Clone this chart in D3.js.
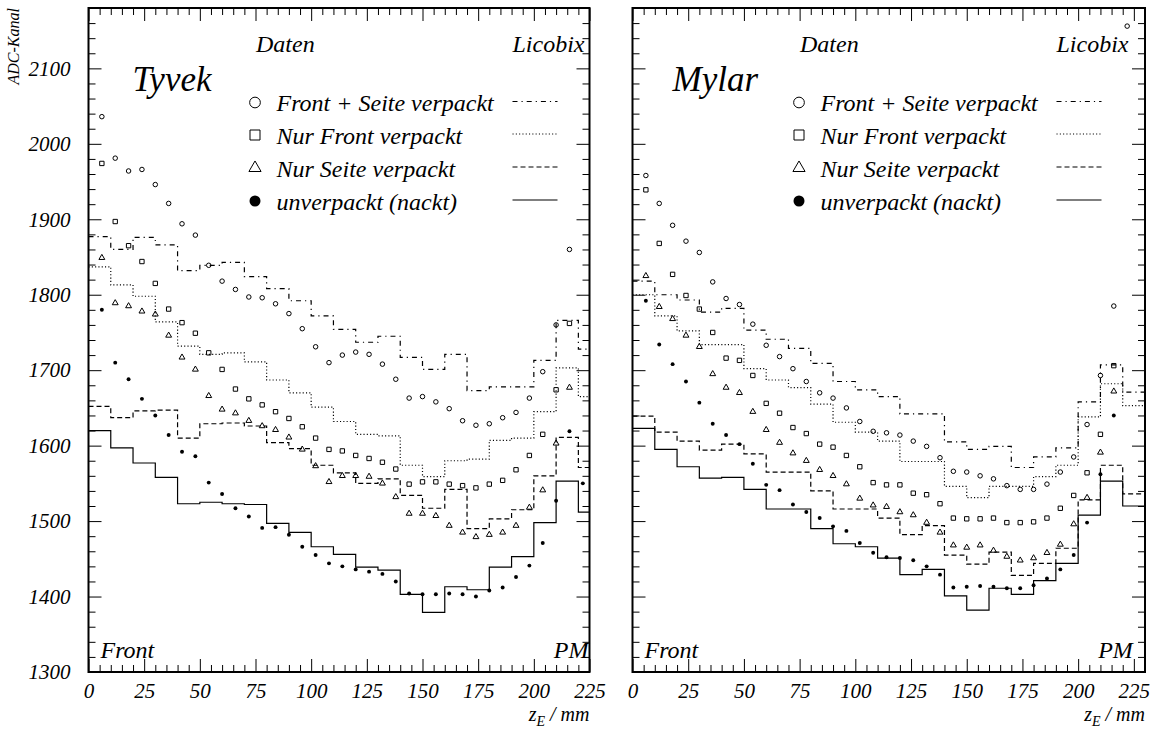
<!DOCTYPE html>
<html><head><meta charset="utf-8">
<script src="https://cdn.jsdelivr.net/npm/d3@7"></script>
<style>
body{margin:0;background:#fff}
svg text{font-family:"Liberation Serif","Times New Roman",serif;font-style:italic;fill:#000}
</style></head><body>
<svg id="chart" width="1152" height="735"></svg>
<script>
// ---- data ---------------------------------------------------------------
// Licobix simulation: histogram bins of 10 mm along z_E
const binEdges = [0,10,20,30,40,50,60,70,80,90,100,110,120,130,140,150,160,170,180,190,200,210,220,230];

const tyvekSimFrontSeite = [1877,1860,1876,1866,1832,1839,1843,1824,1808,1792,1772,1754,1737,1745,1717,1701,1721,1673,1678,1678,1713,1766,1728];
const tyvekSimFront      = [1837,1813,1798,1764,1732,1721,1723,1711,1687,1670,1651,1632,1615,1613,1574,1559,1580,1582,1607,1610,1645,1703,1665];
const tyvekSimSeite      = [1652,1637,1646,1647,1610,1629,1630,1626,1604,1596,1574,1564,1550,1556,1534,1517,1542,1490,1503,1515,1560,1611,1571];
const tyvekSimNackt      = [1620,1597,1577,1558,1523,1525,1523,1522,1497,1485,1466,1456,1439,1435,1403,1379,1413,1409,1439,1453,1498,1553,1512];

const mylarSimFrontSeite = [1818,1800,1793,1777,1782,1753,1741,1729,1709,1685,1674,1665,1642,1642,1605,1595,1599,1571,1585,1597,1658,1707,1671];
const mylarSimFront      = [1800,1772,1752,1734,1734,1702,1687,1677,1655,1631,1618,1606,1579,1579,1546,1531,1546,1546,1559,1574,1638,1682,1653];
const mylarSimSeite      = [1639,1618,1606,1594,1602,1589,1565,1565,1540,1516,1516,1504,1482,1494,1455,1443,1459,1428,1444,1464,1528,1574,1536];
const mylarSimNackt      = [1623,1595,1572,1557,1558,1542,1516,1516,1490,1470,1466,1451,1429,1436,1401,1382,1411,1403,1421,1444,1508,1553,1520];

// measured data: scan positions along z_E (mm)
const zPos = [6,12,18,24,30,36,42,48,54,60,66,72,78,84,90,96,102,108,114,120,126,132,138,144,150,156,162,168,174,180,186,192,198,204,210,216,222];

const tyvekDatFrontSeite = [2036,1981,1964,1966,1946,1921,1894,1879,1839,1818,1807,1797,1796,1788,1775,1755,1731,1710,1720,1724,1721,1708,1688,1663,1665,1658,1649,1633,1627,1629,1637,1644,1663,1698,1760,1860,null];
const tyvekDatFront      = [1974,1897,1865,1844,1815,1781,1763,1749,1723,1701,1675,1662,1654,1645,1636,1625,1610,1595,1593,1587,1583,1578,1569,1549,1552,1552,1549,1547,1544,1549,1554,1568,1587,1615,1674,1762,null];
const tyvekDatSeite      = [1849,1789,1785,1778,1774,1746,1717,1701,1666,1648,1643,1633,1626,1621,1611,1595,1573,1552,1560,1560,1559,1550,1532,1510,1510,1507,1494,1485,1479,1482,1485,1494,1518,1541,1603,1677,null];
const tyvekDatNackt      = [1780,1710,1688,1662,1640,1614,1592,1586,1551,1536,1517,1506,1491,1492,1482,1466,1455,1444,1440,1436,1433,1430,1420,1404,1403,1403,1404,1403,1400,1408,1412,1426,1441,1471,1527,1619,1550];

const mylarDatFrontSeite = [1958,1921,1892,1871,1856,1817,1795,1787,1761,1733,1718,1702,1685,1670,1663,1650,1632,1619,1617,1614,1606,1599,1584,1566,1565,1560,1556,1547,1542,1542,1549,1565,1585,1628,1693,1785,2156];
const mylarDatFront      = [1939,1868,1827,1799,1781,1750,1716,1713,1693,1656,1643,1624,1616,1602,1598,1587,1572,1551,1548,1548,1537,1535,1523,1504,1503,1503,1504,1498,1498,1499,1504,1517,1534,1564,1615,1706,null];
const mylarDatSeite      = [1825,1784,1768,1746,1731,1695,1677,1670,1645,1621,1604,1590,1580,1568,1560,1549,1530,1521,1519,1512,1508,1498,1485,1468,1465,1468,1461,1453,1448,1451,1458,1469,1496,1531,1591,1672,null];
const mylarDatNackt      = [1792,1734,1708,1685,1657,1629,1614,1602,1576,1548,1541,1522,1512,1504,1493,1487,1471,1458,1452,1451,1448,1440,1429,1412,1413,1414,1413,1411,1411,1415,1424,1436,1455,1498,1562,1640,null];

// axis ticks
const xTickLabels = [0,25,50,75,100,125,150,175,200,225];
const yTickLabels = [1300,1400,1500,1600,1700,1800,1900,2000,2100];
const yDomain = [1300,2180];

// legend entries
const legendLabels = ["Front + Seite verpackt","Nur Front verpackt","Nur Seite verpackt","unverpackt (nackt)"];

// ---- drawing ------------------------------------------------------------
const svg = d3.select("#chart");
const TOP = 8, BOTTOM = 672;
const FONT = '"Liberation Serif","Times New Roman",serif';

const styles = [
  {dash:"5,4,1.2,4", marker:"circle"},
  {dash:"1.1,2.2",   marker:"square"},
  {dash:"5,3",       marker:"triangle"},
  {dash:null,        marker:"dot"}
];

const panels = [
  {title:"Tyvek", left:88.5, right:589.5, zMax:225, titleX:44, yLabels:true,
   sim:[tyvekSimFrontSeite,tyvekSimFront,tyvekSimSeite,tyvekSimNackt],
   dat:[tyvekDatFrontSeite,tyvekDatFront,tyvekDatSeite,tyvekDatNackt]},
  {title:"Mylar", left:632.5, right:1145, zMax:230, titleX:40, yLabels:false,
   sim:[mylarSimFrontSeite,mylarSimFront,mylarSimSeite,mylarSimNackt],
   dat:[mylarDatFrontSeite,mylarDatFront,mylarDatSeite,mylarDatNackt]}
];

function symbolPath(kind, big) {
  const sz = {
    circle:   big ? 90 : 16,
    square:   big ? 100 : 19,
    triangle: big ? 64 : 15,
    dot:      big ? 95 : 12
  }[kind];
  const type = kind === "square" ? d3.symbolSquare
             : kind === "triangle" ? d3.symbolTriangle : d3.symbolCircle;
  return d3.symbol().type(type).size(sz)();
}
function styleMarker(sel, kind, big) {
  sel.attr("d", symbolPath(kind, big))
     .attr("fill", kind === "dot" ? "#000" : "none")
     .attr("stroke", kind === "dot" ? "none" : "#000")
     .attr("stroke-width", 1);
}

panels.forEach((p, pi) => {
  const x = d3.scaleLinear().domain([0, p.zMax]).range([p.left, p.right]);
  const y = d3.scaleLinear().domain(yDomain).range([BOTTOM, TOP]);
  const g = svg.append("g");

  const clipId = "clip" + pi;
  svg.append("clipPath").attr("id", clipId).append("rect")
     .attr("x", p.left).attr("y", TOP).attr("width", p.right - p.left).attr("height", BOTTOM - TOP);

  // axes with inward ticks
  const majorX = xTickLabels.filter(v => v <= p.zMax);
  const minorX = d3.range(0, p.zMax + 0.1, 5).filter(v => v % 25 !== 0);
  const minorY = d3.range(yDomain[0], yDomain[1], 20).filter(v => v % 100 !== 0 && v > yDomain[0]);

  function axisStyle(a) {
    a.select(".domain").remove();
    a.selectAll("line").attr("stroke", "#000").attr("stroke-width", 1);
    a.attr("font-family", FONT).attr("font-size", 21).attr("font-style", "italic");
  }
  g.append("g").attr("transform", `translate(0,${BOTTOM})`)
    .call(d3.axisBottom(x).tickValues(majorX).tickSize(-13).tickPadding(11).tickFormat(d3.format("d"))).call(axisStyle);
  g.append("g").attr("transform", `translate(0,${BOTTOM})`)
    .call(d3.axisBottom(x).tickValues(minorX).tickSize(-7).tickFormat("")).call(axisStyle);
  g.append("g").attr("transform", `translate(0,${TOP})`)
    .call(d3.axisTop(x).tickValues(majorX).tickSize(-13).tickFormat("")).call(axisStyle);
  g.append("g").attr("transform", `translate(0,${TOP})`)
    .call(d3.axisTop(x).tickValues(minorX).tickSize(-7).tickFormat("")).call(axisStyle);

  g.append("g").attr("transform", `translate(${p.left},0)`)
    .call(d3.axisLeft(y).tickValues(yTickLabels).tickSize(-13).tickPadding(18)
      .tickFormat(p.yLabels ? d3.format("d") : "")).call(axisStyle);
  g.append("g").attr("transform", `translate(${p.left},0)`)
    .call(d3.axisLeft(y).tickValues(minorY).tickSize(-7).tickFormat("")).call(axisStyle);
  g.append("g").attr("transform", `translate(${p.right},0)`)
    .call(d3.axisRight(y).tickValues(yTickLabels).tickSize(-13).tickFormat("")).call(axisStyle);
  g.append("g").attr("transform", `translate(${p.right},0)`)
    .call(d3.axisRight(y).tickValues(minorY).tickSize(-7).tickFormat("")).call(axisStyle);

  // simulation histograms
  const step = d3.line().x(d => x(d[0])).y(d => y(d[1])).curve(d3.curveStepAfter);
  const plot = g.append("g").attr("clip-path", `url(#${clipId})`);
  p.sim.forEach((vals, si) => {
    const pts = vals.map((v, i) => [binEdges[i], v]);
    pts.push([binEdges[vals.length], vals[vals.length - 1]]);
    plot.append("path").attr("d", step(pts))
      .attr("fill", "none").attr("stroke", "#000").attr("stroke-width", 1.2)
      .attr("stroke-dasharray", styles[si].dash);
  });

  // measured data points
  p.dat.forEach((vals, si) => {
    const pts = zPos.map((z, i) => [z, vals[i]]).filter(d => d[1] != null);
    plot.selectAll(null).data(pts).enter().append("path")
      .attr("transform", d => `translate(${x(d[0])},${y(d[1])})`)
      .call(styleMarker, styles[si].marker, false);
  });

  // frame
  g.append("rect").attr("x", p.left).attr("y", TOP)
    .attr("width", p.right - p.left).attr("height", BOTTOM - TOP)
    .attr("fill", "none").attr("stroke", "#000").attr("stroke-width", 2);

  // labels inside the frame
  g.append("text").attr("x", p.left + p.titleX).attr("y", 91).attr("font-size", 35).text(p.title);
  g.append("text").attr("x", p.left + 167.5).attr("y", 52).attr("font-size", 24).text("Daten");
  g.append("text").attr("x", p.left + 424).attr("y", 52).attr("font-size", 24).text("Licobix");
  g.append("text").attr("x", p.left + 12).attr("y", 658).attr("font-size", 24).text("Front");
  g.append("text").attr("x", x(225) - 1).attr("y", 658).attr("font-size", 24)
    .attr("text-anchor", "end").text("PM");

  // legend
  const rowY = [102.5, 135, 168, 201];
  legendLabels.forEach((lab, i) => {
    g.append("path").attr("transform", `translate(${p.left + 166.5},${rowY[i]})`)
      .call(styleMarker, styles[i].marker, true);
    g.append("text").attr("x", p.left + 188).attr("y", rowY[i] + 8.5).attr("font-size", 24).text(lab);
    g.append("line").attr("x1", p.left + 424).attr("x2", p.left + 469)
      .attr("y1", rowY[i] - 1).attr("y2", rowY[i] - 1)
      .attr("stroke", "#000").attr("stroke-width", 1.2)
      .attr("stroke-dasharray", styles[i].dash);
  });

  // x-axis title
  const t = g.append("text").attr("x", p.right).attr("y", 721)
    .attr("font-size", 20).attr("text-anchor", "end");
  t.append("tspan").text("z");
  t.append("tspan").attr("dy", 5).attr("font-size", 14).text("E");
  t.append("tspan").attr("dy", -5).text(" / mm");
});

// y-axis title
svg.append("text").attr("transform", "translate(19,8) rotate(-90)")
  .attr("text-anchor", "end").attr("font-size", 16).text("ADC-Kanal");
</script>
</body></html>
